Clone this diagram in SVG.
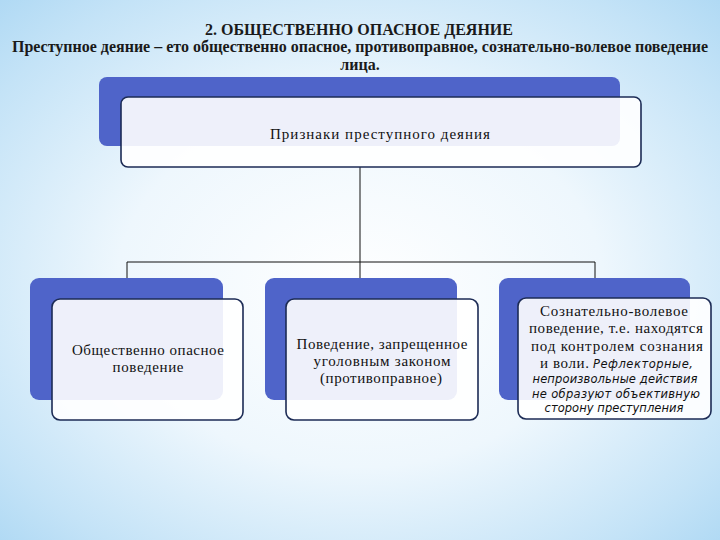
<svg xmlns="http://www.w3.org/2000/svg" width="720" height="540" viewBox="0 0 720 540">
<defs>
<radialGradient id="bg" cx="50%" cy="50%" r="75%" fx="50%" fy="55%">
<stop offset="0" stop-color="#ffffff"/>
<stop offset="0.45" stop-color="#eef7fd"/>
<stop offset="0.8" stop-color="#c4e3f7"/>
<stop offset="1" stop-color="#a9d6f3"/>
</radialGradient>
<style>
.back{fill:#4f64c9;}
.front{fill:#ffffff;fill-opacity:0.9;stroke:#1c2b55;stroke-width:1.6;}
.conn{fill:none;stroke:#111111;stroke-width:1;}
.hdr{font-family:"Liberation Serif","DejaVu Serif",serif;font-weight:bold;fill:#1a1a1a;text-anchor:middle;}
.lbl{font-family:"Liberation Serif","DejaVu Serif",serif;fill:#111111;text-anchor:middle;font-size:15px;}
.it{font-family:"DejaVu Sans","Liberation Sans",sans-serif;font-style:italic;fill:#111111;text-anchor:middle;font-size:11.5px;}
</style>
</defs>
<rect x="0" y="0" width="720" height="540" fill="url(#bg)"/>
<g id="title">
<text class="hdr" x="359" y="35" font-size="17" textLength="308" lengthAdjust="spacingAndGlyphs">2. ОБЩЕСТВЕННО ОПАСНОЕ ДЕЯНИЕ</text>
<text class="hdr" x="360" y="52" font-size="16" textLength="696" lengthAdjust="spacingAndGlyphs">Преступное деяние – ето общественно опасное, противоправное, сознательно-волевое поведение</text>
<text class="hdr" x="360" y="70" font-size="16">лица.</text>
</g>
<g id="connectors">
<path class="conn" d="M360,167 V262"/>
<path class="conn" d="M127,279 V262 H595 V279"/>
<path class="conn" d="M360,262 V279"/>
</g>
<g id="node-top">
<rect class="back" x="99" y="77" width="521" height="69" rx="8"/>
<rect class="front" x="121" y="97" width="520" height="70" rx="7"/>
<text class="lbl" x="380" y="139" textLength="220">Признаки преступного деяния</text>
</g>
<g id="node-left">
<rect class="back" x="30" y="278" width="193" height="122" rx="9"/>
<rect class="front" x="52" y="299" width="191" height="121" rx="8"/>
<text class="lbl" x="148" y="355" textLength="152">Общественно опасное</text>
<text class="lbl" x="148" y="372" textLength="71">поведение</text>
</g>
<g id="node-middle">
<rect class="back" x="265" y="278" width="192" height="122" rx="9"/>
<rect class="front" x="286" y="299" width="192" height="121" rx="8"/>
<text class="lbl" x="382" y="349" textLength="171">Поведение, запрещенное</text>
<text class="lbl" x="382" y="366" textLength="137">уголовным законом</text>
<text class="lbl" x="381" y="383" textLength="122">(противоправное)</text>
</g>
<g id="node-right">
<rect class="back" x="499" y="278" width="191" height="122" rx="9"/>
<rect class="front" x="518" y="298" width="193" height="121" rx="8"/>
<text class="lbl" x="614" y="316" textLength="148">Сознательно-волевое</text>
<text class="lbl" x="616" y="333" textLength="174">поведение, т.е. находятся</text>
<text class="lbl" x="617" y="351" textLength="172">под контролем сознания</text>
<text class="lbl" x="540" y="368" style="text-anchor:start" textLength="49">и воли.</text>
<text class="it" x="593" y="368" style="text-anchor:start" textLength="100">Рефлекторные,</text>
<text class="it" x="615" y="383" textLength="165">непроизвольные действия</text>
<text class="it" x="616" y="398" textLength="168">не образуют объективную</text>
<text class="it" x="614" y="412" textLength="139">сторону преступления</text>
</g>
</svg>
